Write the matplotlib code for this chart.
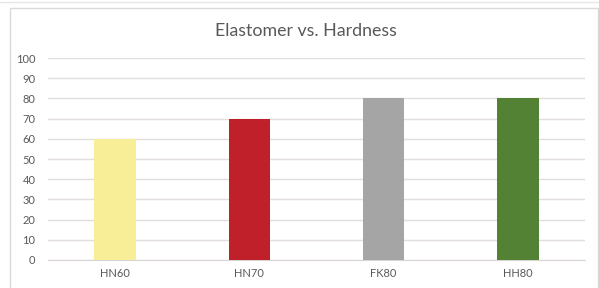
import matplotlib as mpl
import matplotlib.pyplot as plt
from matplotlib.patches import Rectangle

mpl.rcParams['font.family'] = ['Lato', 'DejaVu Sans']

elastomers = ['HN60', 'HN70', 'FK80', 'HH80']
hardness = [60, 70, 80, 80]
colors = ['#F9EE98', '#C0202A', '#A5A5A5', '#548235']
yticks = [0, 10, 20, 30, 40, 50, 60, 70, 80, 90, 100]

W, H = 599, 288
fig = plt.figure(figsize=(W / 100, H / 100), dpi=100)
fig.patch.set_facecolor('white')

# chart border box
fig.add_artist(Rectangle((10 / W, -0.05), 588 / W, 1.05 - 8 / H, transform=fig.transFigure,
                         fill=False, edgecolor='#D9D9D9', linewidth=1.0))
fig.add_artist(plt.Line2D([0, 1], [1 - 1.5 / H, 1 - 1.5 / H], transform=fig.transFigure,
                          color='#E6E6E6', linewidth=1.0))

ax = fig.add_axes([48 / W, 1 - 260 / H, 537 / W, 202 / H])
ax.bar(range(len(elastomers)), hardness, width=0.31, color=colors, zorder=3)
ax.set_xlim(-0.5, len(elastomers) - 0.5)
ax.set_ylim(0, 100)
ax.set_yticks(yticks)
ax.set_xticks(range(len(elastomers)))
ax.set_xticklabels(elastomers)
ax.grid(axis='y', color='#E3DEDC', linewidth=1.0, zorder=0)
for s in ['top', 'right', 'left']:
    ax.spines[s].set_visible(False)
ax.spines['bottom'].set_color('#DAD5D3')
ax.tick_params(axis='both', length=0, labelsize=8, labelcolor='#595959')
ax.tick_params(axis='y', pad=9)
ax.tick_params(axis='x', pad=6)

fig.text(306 / W, 1 - 31 / H, 'Elastomer vs. Hardness', ha='center', va='center',
         fontsize=12.8, color='#595959')

fig.savefig('out.png', dpi=100)
